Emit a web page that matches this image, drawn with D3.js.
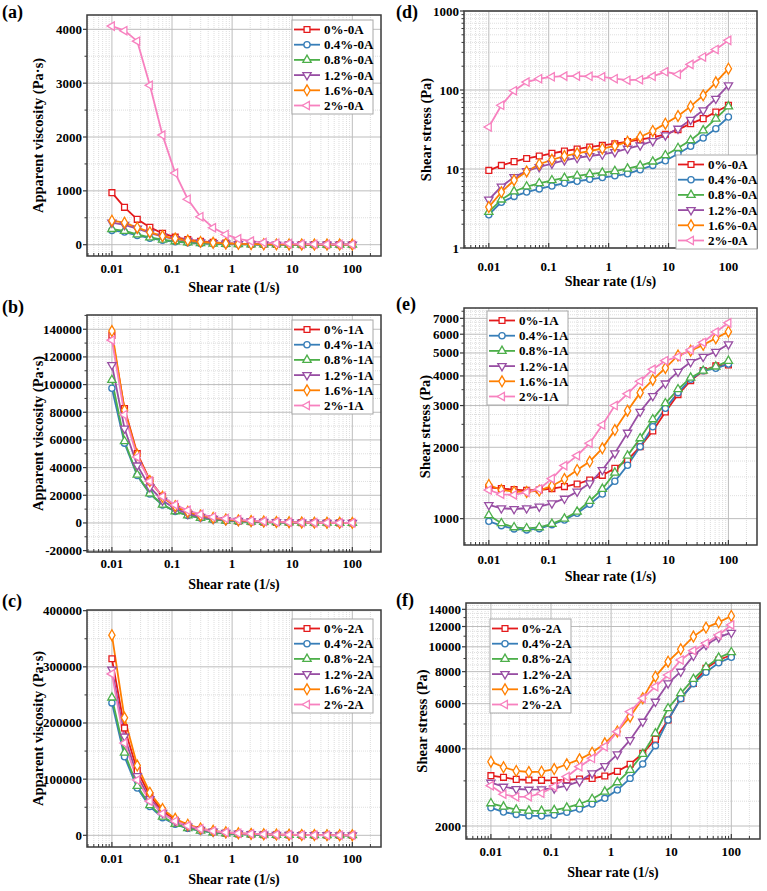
<!DOCTYPE html>
<html>
<head>
<meta charset="utf-8">
<script src="https://cdn.jsdelivr.net/npm/d3@7"></script>
<style>
  body { margin: 0; background: #fff; }
  text { font-family: "Liberation Serif", "Times New Roman", serif; font-weight: bold; fill: #000; }
</style>
</head>
<body>
<svg id="chart" width="767" height="891"></svg>
<script>
// shear rates (1/s), shared by every panel
const rates = [0.01, 0.0162, 0.0264, 0.0428, 0.0695, 0.113, 0.183, 0.298, 0.483, 0.785,
               1.27, 2.07, 3.36, 5.46, 8.86, 14.4, 23.4, 37.9, 61.6, 100];

const fibre = ["0%", "0.4%", "0.8%", "1.2%", "1.6%", "2%"];
const colors = ["#e41a1c", "#377eb8", "#4daf4a", "#984ea3", "#ff7f00", "#f781bf"];

// (a) apparent viscosity, 0A
const visc0A = [
  [966, 694, 471, 323, 211, 140, 95, 64, 42, 30, 17, 11, 7, 4.6, 3.1, 2.2, 1.6, 1.15, 0.86, 0.64],
  [265, 235, 172, 120, 82, 55, 37, 24, 16, 10, 6.5, 4.3, 2.9, 2.0, 1.5, 1.1, 0.83, 0.65, 0.53, 0.45],
  [290, 255, 190, 135, 92, 62, 42, 28, 18, 12, 7.5, 4.9, 3.3, 2.3, 1.7, 1.3, 1.0, 0.81, 0.7, 0.62],
  [410, 370, 300, 220, 150, 105, 70, 46, 32, 21, 13, 8.8, 6, 4.2, 3.1, 2.3, 1.8, 1.5, 1.3, 1.15],
  [446, 409, 316, 232, 160, 115, 80, 52, 36, 24, 15.5, 10.8, 7.6, 5.6, 4.3, 3.3, 2.7, 2.3, 2.0, 1.86],
  [4060, 3975, 3780, 2960, 2035, 1330, 845, 520, 315, 190, 110, 66, 40, 28, 19.5, 11, 9.2, 7, 5.3, 4.3]
];

// (b) apparent viscosity, 1A
const visc1A = [
  [135600, 82650, 50230, 30770, 19010, 11850, 7460, 4700, 3010, 1940, 1283, 854, 598, 429, 318, 232, 163, 111, 72, 44.5],
  [97400, 57650, 34280, 20930, 13050, 8345, 5390, 3530, 2380, 1620, 1130, 811, 598, 447, 330, 236, 165, 111, 70, 45],
  [103300, 59000, 34800, 21260, 13220, 8400, 5460, 3590, 2460, 1700, 1230, 890, 650, 480, 346, 244, 168, 111, 71, 46],
  [114200, 68300, 41600, 25840, 16170, 10270, 6630, 4360, 2920, 2045, 1486, 1114, 841, 603, 420, 289, 196, 127, 82, 54],
  [138700, 81500, 49240, 30280, 18890, 12160, 8030, 5390, 3600, 2520, 1860, 1380, 1010, 705, 488, 339, 218, 143, 94, 61.5],
  [132100, 78200, 47700, 30160, 19190, 13050, 9150, 6190, 4310, 3166, 2360, 1624, 1130, 781, 524, 335, 220, 146, 99.5, 67]
];

// (c) apparent viscosity, 2A
const visc2A = [
  [314300, 191200, 115200, 70650, 43380, 26680, 16560, 10230, 6350, 3990, 2573, 1682, 1143, 798, 585, 437, 308, 217, 144, 93],
  [235800, 140000, 84090, 51260, 31480, 19530, 12360, 7820, 5048, 3266, 2175, 1482, 1039, 754, 585, 436, 307, 210, 141, 91],
  [245200, 146900, 87730, 53620, 32950, 20410, 12890, 8180, 5275, 3468, 2331, 1598, 1137, 842, 650, 458, 320, 219, 147, 95],
  [295200, 175800, 105600, 64770, 40000, 24830, 15700, 10030, 6646, 4367, 2998, 2093, 1520, 1119, 813, 556, 395, 268, 177, 114],
  [356400, 209300, 124200, 75910, 46890, 29510, 19030, 12220, 8000, 5354, 3683, 2580, 1873, 1401, 988, 679, 468, 313, 202, 132],
  [287400, 164200, 98370, 60820, 38620, 25200, 17020, 11440, 7605, 5196, 3675, 2698, 1873, 1281, 876, 617, 413, 272, 181, 122]
];

// (d) shear stress, 0A
const stress0A = [
  [9.6, 11.1, 12.4, 13.6, 14.6, 15.8, 16.9, 17.9, 19.0, 19.9, 20.9, 22.2, 23.5, 25.2, 27.5, 31.5, 37.5, 43.4, 52.7, 64],
  [2.64, 3.8, 4.5, 5.1, 5.6, 6.1, 6.6, 7.0, 7.4, 7.8, 8.2, 8.7, 9.8, 11.1, 12.7, 15.6, 19.4, 24.7, 32.4, 45.5],
  [2.86, 4.1, 5.2, 6.0, 6.6, 7.2, 7.7, 8.2, 8.6, 9.0, 9.4, 10.1, 11.0, 12.4, 14.9, 18.4, 23.1, 30.8, 43.4, 62],
  [4.1, 6.0, 7.9, 9.4, 10.6, 11.7, 12.9, 13.8, 14.6, 15.3, 16.4, 18.1, 19.9, 22.6, 26.7, 32.4, 42, 55.3, 77.6, 115],
  [3.3, 5.1, 7.2, 9.3, 11.5, 13.1, 14.6, 15.8, 16.9, 18.1, 19.6, 22.2, 25.4, 30.3, 37.5, 46.9, 62, 85.5, 125, 186],
  [34, 64, 98, 126, 139, 147, 150, 150, 149, 147, 139, 133, 135, 149, 170, 158, 211, 262, 326, 425]
];

// (e) shear stress, 1A
const stress1A = [
  [1356, 1339, 1326, 1317, 1321, 1339, 1365, 1400, 1456, 1523, 1630, 1768, 2010, 2344, 2818, 3337, 3822, 4210, 4410, 4450],
  [974, 934, 905, 896, 907, 943, 987, 1053, 1150, 1271, 1437, 1679, 2010, 2443, 2920, 3400, 3870, 4205, 4310, 4490],
  [1033, 956, 919, 910, 919, 950, 1000, 1070, 1187, 1334, 1562, 1844, 2182, 2624, 3067, 3513, 3933, 4205, 4380, 4630],
  [1142, 1106, 1098, 1106, 1124, 1160, 1214, 1300, 1409, 1605, 1887, 2306, 2826, 3293, 3720, 4168, 4580, 4820, 5060, 5440],
  [1387, 1321, 1300, 1296, 1313, 1374, 1470, 1605, 1740, 1980, 2365, 2855, 3400, 3848, 4320, 4880, 5110, 5410, 5770, 6150],
  [1321, 1267, 1259, 1291, 1334, 1475, 1674, 1844, 2080, 2485, 3000, 3362, 3800, 4265, 4640, 4820, 5150, 5540, 6130, 6700]
];

// (f) shear stress, 2A
const stress2A = [
  [3143, 3097, 3041, 3024, 3015, 3015, 3030, 3050, 3067, 3134, 3268, 3482, 3842, 4357, 5184, 6295, 7204, 8243, 8885, 9290],
  [2358, 2268, 2220, 2194, 2188, 2207, 2262, 2330, 2438, 2564, 2762, 3068, 3491, 4116, 5184, 6278, 7183, 7954, 8670, 9100],
  [2452, 2379, 2316, 2295, 2290, 2306, 2358, 2438, 2548, 2722, 2960, 3308, 3819, 4596, 5756, 6588, 7490, 8318, 9071, 9517],
  [2952, 2848, 2789, 2772, 2780, 2806, 2874, 2988, 3210, 3428, 3808, 4332, 5106, 6110, 7204, 8000, 9234, 10170, 10890, 11350],
  [3564, 3390, 3279, 3249, 3259, 3335, 3482, 3641, 3864, 4203, 4677, 5340, 6295, 7650, 8752, 9780, 10960, 11880, 12460, 13190],
  [2874, 2660, 2597, 2603, 2684, 2848, 3115, 3408, 3673, 4079, 4667, 5585, 6295, 6992, 7763, 8885, 9660, 10320, 11120, 12170]
];

// tick labels
const xTicks = [0.01, 0.1, 1, 10, 100];
const ticksA = [0, 1000, 2000, 3000, 4000];
const ticksB = [-20000, 0, 20000, 40000, 60000, 80000, 100000, 120000, 140000];
const ticksC = [0, 100000, 200000, 300000, 400000];
const ticksD = [1, 10, 100, 1000];
const ticksE = [1000, 2000, 3000, 4000, 5000, 6000, 7000];
const ticksF = [2000, 4000, 6000, 8000, 10000, 12000, 14000];

const panels = [
  { tag: "(a)", tagXY: [2, 18], frame: [87, 15, 381, 256], log: false, yDom: [-210, 4266],
    ticks: ticksA, minorStep: 500, data: visc0A, suffix: "-0A", legend: [292, 20],
    yTitle: "Apparent viscosity (Pa\u00b7s)", yTitleX: 38, labOff: 17, titleOff: 36 },
  { tag: "(b)", tagXY: [2, 313], frame: [87, 315, 381, 552], log: false, yDom: [-21000, 150300],
    ticks: ticksB, minorStep: 10000, data: visc1A, suffix: "-1A", legend: [292, 320],
    yTitle: "Apparent viscosity (Pa\u00b7s)", yTitleX: 38, labOff: 16, titleOff: 37 },
  { tag: "(c)", tagXY: [2, 607], frame: [87, 610, 381, 847], log: false, yDom: [-20800, 401200],
    ticks: ticksC, minorStep: 50000, data: visc2A, suffix: "-2A", legend: [292, 619],
    yTitle: "Apparent viscosity (Pa\u00b7s)", yTitleX: 38, labOff: 16, titleOff: 37 },
  { tag: "(d)", tagXY: [396, 18], frame: [464, 11, 757, 248], log: true, yDom: [1, 1000],
    ticks: ticksD, minor: "decade", data: stress0A, suffix: "-0A", legend: [676, 155],
    yTitle: "Shear stress (Pa)", yTitleX: 426, labOff: 23, titleOff: 38 },
  { tag: "(e)", tagXY: [396, 310], frame: [464, 308, 757, 545], log: true, yDom: [774, 7740],
    ticks: ticksE, minorStep: 250, minorTick: 500, data: stress1A, suffix: "-1A", legend: [487, 311],
    yTitle: "Shear stress (Pa)", yTitleX: 425, labOff: 19, titleOff: 36 },
  { tag: "(f)", tagXY: [396, 606], frame: [466, 603, 760, 839], log: true, yDom: [1780, 14820],
    ticks: ticksF, minorStep: 500, minorTick: 1000, data: stress2A, suffix: "-2A", legend: [490, 619],
    yTitle: "Shear stress (Pa)", yTitleX: 422, labOff: 17, titleOff: 38 }
];

const svg = d3.select("#chart");

const symbols = [
  { type: d3.symbolSquare, size: 34, rot: 0 },
  { type: d3.symbolCircle, size: 30, rot: 0 },
  { type: d3.symbolTriangle, size: 30, rot: 0 },
  { type: d3.symbolTriangle, size: 30, rot: 180 },
  { type: d3.symbolDiamond, size: 34, rot: 0 },
  { type: d3.symbolTriangle, size: 30, rot: -90 }
];

function marker(g, i, cx, cy) {
  const s = symbols[i];
  g.append("path")
    .attr("d", d3.symbol().type(s.type).size(s.size)())
    .attr("transform", `translate(${cx},${cy}) rotate(${s.rot})`)
    .attr("fill", "#fff")
    .attr("stroke", colors[i])
    .attr("stroke-width", 1.3);
}

panels.forEach(p => {
  const [x0, y0, x1, y1] = p.frame;
  const g = svg.append("g");

  const x = d3.scaleLog().domain([0.00385, 300]).range([x0, x1]);
  const y = (p.log ? d3.scaleLog() : d3.scaleLinear()).domain(p.yDom).range([y1, y0]);

  // minor positions
  const xMinor = [];
  for (let k = -3; k <= 2; k++) for (let m = 2; m <= 9; m++) {
    const v = m * Math.pow(10, k);
    if (v > 0.00385 && v < 300) xMinor.push(v);
  }
  let yMinor = [], yMinorTicks = [];
  if (p.minor === "decade") {
    for (let k = 0; k <= 2; k++) for (let m = 2; m <= 9; m++) yMinor.push(m * Math.pow(10, k));
    yMinorTicks = yMinor;
  } else {
    for (let v = Math.ceil(p.yDom[0] / p.minorStep) * p.minorStep; v < p.yDom[1]; v += p.minorStep) {
      if (!p.ticks.includes(v)) yMinor.push(v);
    }
    const st = p.minorTick || p.minorStep;
    for (let v = Math.ceil(p.yDom[0] / st) * st; v < p.yDom[1]; v += st) {
      if (!p.ticks.includes(v)) yMinorTicks.push(v);
    }
  }

  // minor grid
  g.append("g").selectAll("line").data(xMinor).join("line")
    .attr("x1", d => x(d)).attr("x2", d => x(d)).attr("y1", y0).attr("y2", y1)
    .attr("stroke", "#d6d6d6").attr("stroke-width", 0.8).attr("stroke-dasharray", "1,1");
  g.append("g").selectAll("line").data(yMinor).join("line")
    .attr("y1", d => y(d)).attr("y2", d => y(d)).attr("x1", x0).attr("x2", x1)
    .attr("stroke", "#d6d6d6").attr("stroke-width", 0.8).attr("stroke-dasharray", "1,1");

  // major grid
  g.append("g").selectAll("line").data(xTicks).join("line")
    .attr("x1", d => x(d)).attr("x2", d => x(d)).attr("y1", y0).attr("y2", y1)
    .attr("stroke", "#bdbdbd").attr("stroke-width", 1);
  g.append("g").selectAll("line").data(p.ticks).join("line")
    .attr("y1", d => y(d)).attr("y2", d => y(d)).attr("x1", x0).attr("x2", x1)
    .attr("stroke", "#bdbdbd").attr("stroke-width", 1);

  // series
  const line = d3.line().x((d, j) => x(rates[j])).y(d => y(d));
  p.data.forEach((vals, i) => {
    g.append("path").datum(vals)
      .attr("d", line)
      .attr("fill", "none")
      .attr("stroke", colors[i])
      .attr("stroke-width", 1.8);
  });
  p.data.forEach((vals, i) => {
    const mg = g.append("g");
    vals.forEach((v, j) => marker(mg, i, x(rates[j]), y(v)));
  });

  // frame
  g.append("rect")
    .attr("x", x0).attr("y", y0).attr("width", x1 - x0).attr("height", y1 - y0)
    .attr("fill", "none").attr("stroke", "#3a3a3a").attr("stroke-width", 1.5);

  // x ticks (inward)
  g.append("g").selectAll("line").data(xTicks).join("line")
    .attr("x1", d => x(d)).attr("x2", d => x(d)).attr("y1", y1).attr("y2", y1 - 5)
    .attr("stroke", "#3a3a3a").attr("stroke-width", 1.2);
  g.append("g").selectAll("line").data(xMinor).join("line")
    .attr("x1", d => x(d)).attr("x2", d => x(d)).attr("y1", y1).attr("y2", y1 - 3)
    .attr("stroke", "#3a3a3a").attr("stroke-width", 1);

  // y ticks (outward)
  g.append("g").selectAll("line").data(p.ticks).join("line")
    .attr("y1", d => y(d)).attr("y2", d => y(d)).attr("x1", x0).attr("x2", x0 - 4)
    .attr("stroke", "#3a3a3a").attr("stroke-width", 1.2);
  g.append("g").selectAll("line").data(yMinorTicks).join("line")
    .attr("y1", d => y(d)).attr("y2", d => y(d)).attr("x1", x0).attr("x2", x0 - 2.5)
    .attr("stroke", "#3a3a3a").attr("stroke-width", 1);

  // tick labels
  g.append("g").selectAll("text").data(xTicks).join("text")
    .attr("x", d => x(d)).attr("y", y1 + p.labOff)
    .attr("text-anchor", "middle").style("font-size", "13px")
    .text(d => d);
  g.append("g").selectAll("text").data(p.ticks).join("text")
    .attr("x", x0 - 5).attr("y", d => y(d) + 4.5)
    .attr("text-anchor", "end").style("font-size", "13px")
    .text(d => d);

  // axis titles
  g.append("text")
    .attr("x", (x0 + x1) / 2).attr("y", y1 + p.titleOff)
    .attr("text-anchor", "middle").style("font-size", "14px")
    .text("Shear rate (1/s)");
  g.append("text")
    .attr("transform", `translate(${p.yTitleX},${(y0 + y1) / 2}) rotate(-90)`)
    .attr("dy", "0.35em")
    .attr("text-anchor", "middle").style("font-size", "14.5px")
    .text(p.yTitle);

  // panel tag
  g.append("text")
    .attr("x", p.tagXY[0]).attr("y", p.tagXY[1])
    .style("font-size", "18px")
    .text(p.tag);

  // legend
  const [lx, ly] = p.legend;
  const lg = g.append("g");
  lg.append("rect")
    .attr("x", lx).attr("y", ly).attr("width", 81).attr("height", 94)
    .attr("fill", "#fff").attr("stroke", "#a8a8a8").attr("stroke-width", 1);
  fibre.forEach((f, i) => {
    const ry = ly + 9.5 + i * 15.2;
    lg.append("line")
      .attr("x1", lx + 2).attr("x2", lx + 28).attr("y1", ry).attr("y2", ry)
      .attr("stroke", colors[i]).attr("stroke-width", 1.8);
    marker(lg, i, lx + 15, ry);
    lg.append("text")
      .attr("x", lx + 32).attr("y", ry + 4.5)
      .style("font-size", "13px")
      .text(f + p.suffix);
  });
});
</script>
</body>
</html>
